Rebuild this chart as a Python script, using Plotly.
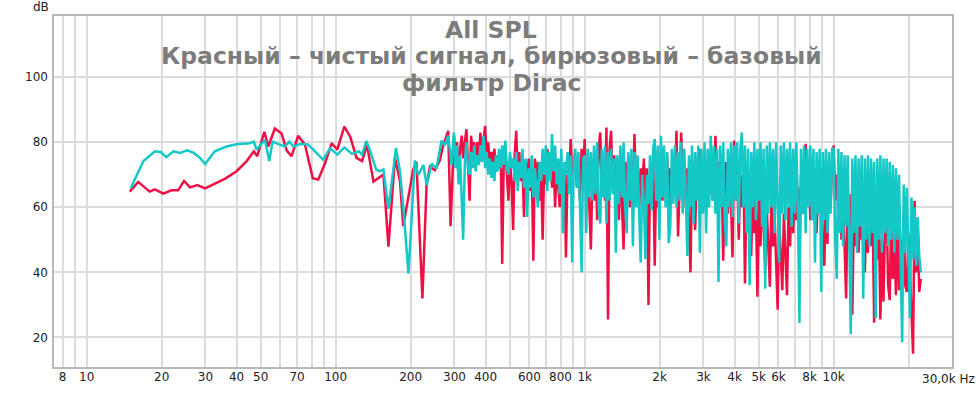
import plotly.graph_objects as go

# ---------------- data ----------------
# low-frequency part (hand-read points)
RED_LO_F = [14.9, 16.1, 17.9, 18.8, 20.3, 21.9, 23.3, 24.6, 26.0, 27.8, 29.9, 32.2, 36.0, 40.0,
            43.9, 46.9, 48.4, 51.7, 53.6, 57.0, 60.6, 63.6, 66.5, 70.7, 75.3, 80.9, 85.1, 90.7,
            96.4, 101.5, 108.3, 114.4, 121.2, 127.6, 133.6, 141.8, 148.5, 155.5, 162.9, 173.0,
            181.2, 186.8, 192.4, 204.6, 211.0, 223.0, 231.7, 239.0, 250.3, 262.1, 270.2, 283.1, 289.4]
RED_LO_DB = [64.8, 67.8, 64.8, 65.5, 64.2, 65.2, 65.2, 68.1, 66.1, 66.8, 65.8, 67.1, 68.8, 71.1,
             74.2, 77.2, 75.7, 83.2, 78.7, 84.2, 82.7, 77.4, 75.7, 82.0, 79.2, 68.9, 68.5, 73.6,
             79.7, 77.7, 84.8, 81.7, 75.2, 74.2, 79.2, 67.9, 69.1, 70.1, 47.9, 75.2,
             68.1, 54.2, 59.8, 71.4, 74.0, 32.0, 66.8, 72.4, 71.4, 74.4, 79.0, 83.5, 54.2]

CYAN_LO_F = [15.0, 16.9, 18.8, 19.8, 20.9, 22.3, 23.7, 25.3, 26.9, 28.5, 29.9, 32.7, 36.5, 40.0,
             45.2, 46.9, 48.1, 50.4, 52.0, 54.1, 55.8, 58.9, 62.6, 65.1, 67.6, 71.7, 76.9, 81.4,
             83.7, 89.0, 94.9, 101.5, 108.3, 116.2, 123.8, 127.6, 132.8, 138.5, 145.4, 149.9,
             155.5, 162.9, 174.6, 181.2, 187.0, 196.0, 208.0, 214.5, 225.0, 232.0, 243.0, 254.0,
             266.0, 274.0, 283.0, 292.0]
CYAN_LO_DB = [65.8, 74.2, 77.2, 77.0, 75.4, 77.2, 76.7, 77.5, 76.7, 75.2, 73.3, 77.2, 78.7, 79.4,
              79.7, 80.2, 77.7, 79.7, 80.7, 74.2, 80.2, 79.4, 78.7, 80.2, 78.7, 79.4, 79.4, 77.7,
              76.7, 74.6, 78.2, 76.2, 78.4, 76.4, 77.2, 76.2, 80.4, 76.7, 71.6, 71.1,
              71.6, 59.5, 78.2, 71.1, 59.8, 39.6, 74.4, 69.9, 73.0, 66.8, 73.4, 71.9,
              80.5, 79.0, 82.0, 73.0]

# high-frequency part: shared measurement frequencies (Hz), 300 Hz - 22 kHz
FREQ_A = [298.5, 302.9, 307, 311.7, 316, 320.8, 325, 330.2, 335, 339.8, 345, 349.8, 355, 360,
          365, 370.5, 376, 381.3, 387, 392.4, 398, 403.9, 410, 415.7, 422, 427.8, 434, 440.3,
          447, 453.2, 460, 466.4, 473, 480, 487, 494, 501, 508.5, 516, 523.3, 531, 538.6, 546,
          554.3, 562, 570.5, 579, 587.2, 596, 604.3, 613, 622, 631, 640.1, 649, 658.8, 668, 678,
          688, 697.8, 708, 718.2, 729, 739.2, 750, 760.8, 772, 783, 794, 805.9, 818, 829.4, 841,
          853.6, 866, 878.5, 891, 904.2, 917, 930.6, 944, 957.7, 972, 985.7]
FREQ_B = [1000, 1014.5, 1029, 1044, 1059, 1075, 1090, 1106, 1122, 1138, 1155, 1171.5, 1189, 1206,
          1223, 1241, 1259, 1277, 1296, 1314.5, 1334, 1353, 1372, 1392, 1413, 1433, 1454, 1475,
          1496, 1518, 1540, 1562, 1585, 1608, 1631, 1655, 1679, 1703, 1728, 1753, 1778, 1804,
          1830, 1857, 1884, 1911, 1939, 1967, 1995, 2024, 2054, 2083, 2113, 2144, 2175, 2207,
          2239, 2271, 2304, 2337.5, 2371, 2406, 2441, 2476, 2512, 2548, 2585, 2623, 2661, 2699,
          2738, 2778, 2818, 2859, 2901, 2943, 2985, 3029]
FREQ_C = [3073, 3117, 3162, 3208, 3255, 3302, 3350, 3398, 3447, 3497, 3548, 3600, 3652, 3705,
          3758, 3813, 3868, 3924, 3981, 4039, 4097, 4157, 4217, 4278, 4340, 4403, 4467, 4532,
          4597, 4664, 4732, 4800, 4870, 4940, 5012, 5085, 5158, 5233, 5309, 5386, 5464, 5543,
          5623, 5705, 5788, 5871, 5957, 6043, 6131, 6219.5, 6310, 6401, 6494, 6588, 6683, 6780,
          6879, 6978, 7079, 7182, 7286, 7392, 7499, 7608, 7718, 7830, 7943, 8058.5, 8175, 8294,
          8414, 8536, 8660, 8785, 8913, 9042, 9173, 9306, 9441, 9577, 9716, 9857]
FREQ_D = [10000, 10145, 10292, 10441, 10593, 10746, 10902, 11060, 11220, 11383, 11548, 11715,
          11885, 12057, 12232, 12409, 12589, 12772, 12958, 13145, 13335, 13528, 13725, 13924,
          14125, 14330, 14537, 14748, 14962, 15179, 15399, 15622, 15849, 16079, 16312, 16548,
          16788, 17032, 17279, 17529, 17783, 18041, 18302, 18567, 18836, 19110, 19387, 19668,
          19953, 20242, 20535, 20833, 21135, 21441, 21752, 22067, 22387]

CYAN_A = [83, 72, 79, 67, 76, 62, 50, 74, 80, 72, 70, 77, 72, 79, 71, 76, 73, 79, 74, 82,
          72, 77, 70, 75, 69, 74, 68, 76, 71, 78, 72, 79, 73, 80.5, 72, 70, 77, 72, 75, 68,
          77, 65, 74, 69, 78, 66, 75, 57, 72, 66, 76, 63, 72, 66, 60, 74, 68, 78, 70, 79,
          65, 77, 68, 82.5, 71, 79, 67, 75, 64, 78, 52, 74, 70, 77, 64, 76, 43, 74, 78, 66,
          77, 60, 40, 75]
CYAN_B = [76, 52, 78, 63, 77, 62, 79, 64, 80, 60, 55, 78, 63, 79, 55, 77, 62, 78, 64, 75,
          46, 76, 61, 79, 63, 80, 60, 52, 77, 62, 78, 48, 77, 60, 76, 58, 43, 70, 62, 44,
          70, 61, 76, 59, 78, 81, 62, 79, 50, 82, 63, 79, 60, 77, 49, 54, 78, 61, 79, 60,
          77, 62, 80, 58, 78, 63, 45, 76, 60, 79, 55, 77, 62, 79, 46, 78, 58, 80]
CYAN_C = [52, 78, 60, 82, 62, 79, 58, 78, 37, 79, 60, 80, 56, 48, 78, 60, 80, 57, 79, 62,
          80, 55, 78, 83, 60, 79, 52, 78, 36, 77, 60, 80, 56, 78, 62, 80, 54, 78, 35, 79,
          58, 80, 60, 78, 52, 80, 60, 43, 79, 58, 80, 56, 78, 60, 80, 54, 78, 58, 80, 60,
          24.4, 78, 58, 79, 52, 78, 60, 79, 56, 78, 43, 77, 58, 78, 34, 77, 56, 78, 52, 77,
          58, 78]
CYAN_D = [78, 50, 38, 78, 52, 77, 48, 76, 54, 76, 50, 21, 75, 52, 76, 46, 75, 54, 76, 32,
          75, 50, 76, 48, 75, 52, 74, 26, 75, 50, 76, 46, 75, 52, 75, 48, 74, 50, 73, 46,
          72, 50, 70, 44, 18.5, 67, 46, 66, 48, 26, 63, 44, 60, 42, 57, 45, 40]

RED_A = [82, 74, 80, 68, 78, 82, 75, 80, 84, 74, 62, 82, 76, 80, 72, 80, 75, 83, 74, 80,
         85, 77, 80, 72, 77, 74, 78, 71, 76, 72, 77, 42.6, 74, 78, 70, 62, 74, 68, 53, 76,
         83.5, 70, 77, 68, 74, 57, 72, 68, 75, 65, 72, 43.6, 75, 68, 74, 62, 72, 50, 74, 67,
         78, 70, 75, 66, 74, 60, 73, 65, 60, 72, 66, 72, 44.6, 72, 68, 81, 70, 74, 75, 66,
         72, 62, 78, 70]
RED_B = [81, 66, 74, 60, 47, 72, 62, 76, 56, 78, 83, 66, 76, 62, 84.5, 25.5, 78, 83.5, 66, 76,
         58, 72, 56, 74, 62, 47, 74, 64, 76, 60, 74, 66, 82.5, 64, 74, 60, 72, 66, 75, 62,
         72, 30, 70, 62, 74, 42, 72, 60, 65, 76, 62, 74, 64, 76, 60, 72, 64, 76, 66, 83.5,
         51, 70, 83, 64, 74, 60, 72, 55, 40, 72, 62, 53, 70, 64, 78, 62, 70, 60]
RED_C = [70, 60, 76, 64, 74, 62, 82, 66, 74, 60, 72, 43.6, 66, 74, 58, 72, 62, 44.6, 80.5, 62,
         72, 50, 70, 60, 74, 36.6, 66, 52, 70, 45, 66, 52, 62, 32.5, 64, 48, 68, 52, 40.6, 60,
         46, 35.6, 62, 48, 58, 42, 28.5, 56, 44, 34.5, 58, 46, 33, 60, 48, 66, 52, 70, 56, 66,
         42.6, 70, 58, 74, 79.5, 62, 70, 56, 72, 60, 70, 52, 68, 58, 72, 48, 42, 66, 48.7, 70,
         60, 74]
RED_D = [79, 62, 70, 58, 66, 50, 64, 48, 32, 62, 50, 64, 27, 60, 48, 62, 46, 60, 50, 64,
         40, 58, 46, 62, 48, 60, 24.5, 56, 44, 58, 25.5, 50, 31, 56, 60, 36, 31.5, 58, 38, 54,
         33, 56, 34.5, 50, 44, 58, 36, 34, 52, 40, 28, 15, 62, 40, 54, 34, 38]

# axis ticks
GRID_HZ = [8, 9, 10, 20, 30, 40, 50, 60, 70, 80, 90, 100, 200, 300, 400, 500, 600, 700, 800,
           900, 1000, 2000, 3000, 4000, 5000, 6000, 7000, 8000, 9000, 10000, 20000]
GRID_TEXT = ["8", "", "10", "20", "30", "40", "50", "", "70", "", "", "100", "200", "300", "400",
             "", "600", "", "800", "", "1k", "2k", "3k", "4k", "5k", "6k", "", "8k", "", "10k", ""]
Y_TICKS = [20, 40, 60, 80, 100]

TITLE_LINES = ["All SPL",
               "Красный – чистый сигнал, бирюзовый – базовый",
               "фильтр Dirac"]

RED = "#ee0f45"
CYAN = "#14c8c8"

FREQ_HI = FREQ_A + FREQ_B + FREQ_C + FREQ_D
RED_HI = RED_A + RED_B + RED_C + RED_D
CYAN_HI = CYAN_A + CYAN_B + CYAN_C + CYAN_D
assert len(FREQ_HI) == len(RED_HI) == len(CYAN_HI)

fig = go.Figure()
fig.add_trace(go.Scatter(x=RED_LO_F + FREQ_HI, y=RED_LO_DB + RED_HI, mode="lines",
                         line=dict(color=RED, width=2.5), name="red"))
fig.add_trace(go.Scatter(x=CYAN_LO_F + FREQ_HI, y=CYAN_LO_DB + CYAN_HI, mode="lines",
                         line=dict(color=CYAN, width=2.5), name="cyan"))

PL, PT, PW, PH = 53, 15, 900, 358          # plot area in page pixels
L, T = PL, PT
R = 980 - L - PW
B = 396 - T - PH


def px(xv):
    return (xv - PL) / PW


def py(yv):
    return (PT + PH - yv) / PH


fig.update_layout(
    width=980, height=396,
    margin=dict(l=L, r=R, t=T, b=B),
    paper_bgcolor="white", plot_bgcolor="white",
    showlegend=False,
    font=dict(family="DejaVu Sans", size=12, color="#222"),
)
fig.update_xaxes(type="log", range=[0.8647, 4.4792], tickvals=GRID_HZ, ticktext=GRID_TEXT,
                 showgrid=True, gridcolor="#dcdcdc", gridwidth=1.6, zeroline=False,
                 ticks="", showline=False, tickfont=dict(size=12, color="#222"))
fig.update_yaxes(range=[10.6, 119.1], tickvals=Y_TICKS, showgrid=True, gridcolor="#dcdcdc",
                 gridwidth=1.6, zeroline=False, ticks="", showline=False,
                 ticklabelstandoff=4, tickfont=dict(size=12, color="#222"))
fig.add_shape(type="rect", xref="paper", yref="paper", x0=0, x1=1, y0=0, y1=1,
              line=dict(color="#b8b8b8", width=2), layer="above")

for line, yc in zip(TITLE_LINES, [30, 57, 84]):
    fig.add_annotation(text=line, xref="paper", yref="paper", x=px(491), y=py(yc),
                       xanchor="center", yanchor="middle", showarrow=False,
                       font=dict(family="DejaVu Sans", size=23.5, color="#7c7c7c",
                                 weight="bold"))

fig.add_annotation(text="dB", xref="paper", yref="paper", x=px(41), y=py(7),
                   xanchor="center", yanchor="middle", showarrow=False,
                   font=dict(size=12, color="#222"))
fig.add_annotation(text="30,0k Hz", xref="paper", yref="paper", x=px(920), y=py(384),
                   xanchor="left", yanchor="middle", showarrow=False,
                   font=dict(size=12, color="#222"))

# remove the browser's default 8px body margin so the figure sits at the page origin
fig.write_html("out.html", config={"displayModeBar": False},
               post_script="document.body.style.margin='0px';")
